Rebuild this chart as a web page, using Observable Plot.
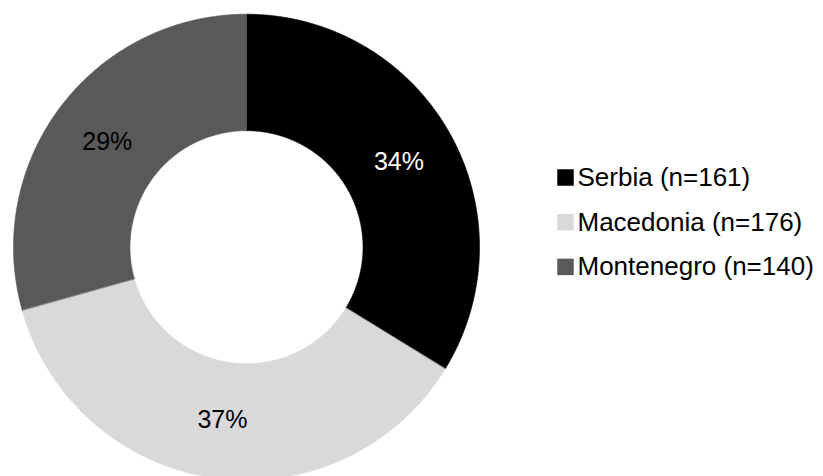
<!DOCTYPE html>
<html>
<head>
<meta charset="utf-8">
<script src="https://cdn.jsdelivr.net/npm/d3@7"></script>
<script src="https://cdn.jsdelivr.net/npm/@observablehq/plot@0.6"></script>
<style>
  html, body { margin: 0; padding: 0; background: #fff; }
  #chart svg { display: block; }
</style>
</head>
<body>
<div id="chart"></div>
<script>
// ---- Data ----
const countries = ["Serbia", "Macedonia", "Montenegro"];
const counts = [161, 176, 140];
const percentLabels = ["34%", "37%", "29%"];
const sliceColors = ["#000000", "#d9d9d9", "#595959"];
const labelColors = ["#ffffff", "#000000", "#000000"];

// ---- Layout (pixels) ----
const W = 823, H = 476;
const cx = 246, cy = 246.7, R = 233;      // donut centre and outer radius in px
const innerFrac = 0.5;                     // inner radius / outer radius

// map pixel positions into the unit data space (1 unit = outer radius)
const px2x = p => (p - cx) / R;
const py2y = p => (cy - p) / R;

const rows = countries.map((name, i) => ({
  name, count: counts[i], pct: percentLabels[i],
  legend: `${name} (n=${counts[i]})`, labelColor: labelColors[i]
}));

const arcs = d3.pie().sort(null).value(d => d.count)(rows);

// polygon outline of each donut slice (angles clockwise from 12 o'clock)
const slicePts = [];
for (const a of arcs) {
  const n = 240;
  for (let k = 0; k <= n; k++) {
    const t = a.startAngle + (a.endAngle - a.startAngle) * k / n;
    slicePts.push({name: a.data.name, x: Math.sin(t), y: Math.cos(t)});
  }
  for (let k = n; k >= 0; k--) {
    const t = a.startAngle + (a.endAngle - a.startAngle) * k / n;
    slicePts.push({name: a.data.name, x: innerFrac * Math.sin(t), y: innerFrac * Math.cos(t)});
  }
}

const labelPts = arcs.map(a => {
  const m = (a.startAngle + a.endAngle) / 2, r = (1 + innerFrac) / 2;
  return {...a.data, x: r * Math.sin(m), y: r * Math.cos(m)};
});

const legendRowsPx = [177, 221.7, 266.4];
const legendPts = rows.map((d, i) => ({...d, y: py2y(legendRowsPx[i])}));

const chart = Plot.plot({
  width: W, height: H,
  margin: 0,
  x: {domain: [px2x(0), px2x(W)], axis: null},
  y: {domain: [py2y(H), py2y(0)], axis: null},
  color: {domain: countries, range: sliceColors},
  style: {fontFamily: "'Liberation Sans', Arial, Helvetica, sans-serif", background: "#fff"},
  marks: [
    Plot.line(slicePts, {x: "x", y: "y", z: "name", fill: "name", stroke: "name", strokeWidth: 0.6, curve: "linear-closed"}),
    Plot.text(labelPts, {x: "x", y: "y", text: "pct", fill: d => d.labelColor, fontSize: 25}),
    Plot.dot(legendPts, {x: px2x(565), y: "y", symbol: "square", r: 9.3, fill: "name", stroke: null}),
    Plot.text(legendPts, {x: px2x(577), y: "y", text: "legend", textAnchor: "start", fill: "#000", fontSize: 26})
  ]
});

document.getElementById("chart").appendChild(chart);
</script>
</body>
</html>
